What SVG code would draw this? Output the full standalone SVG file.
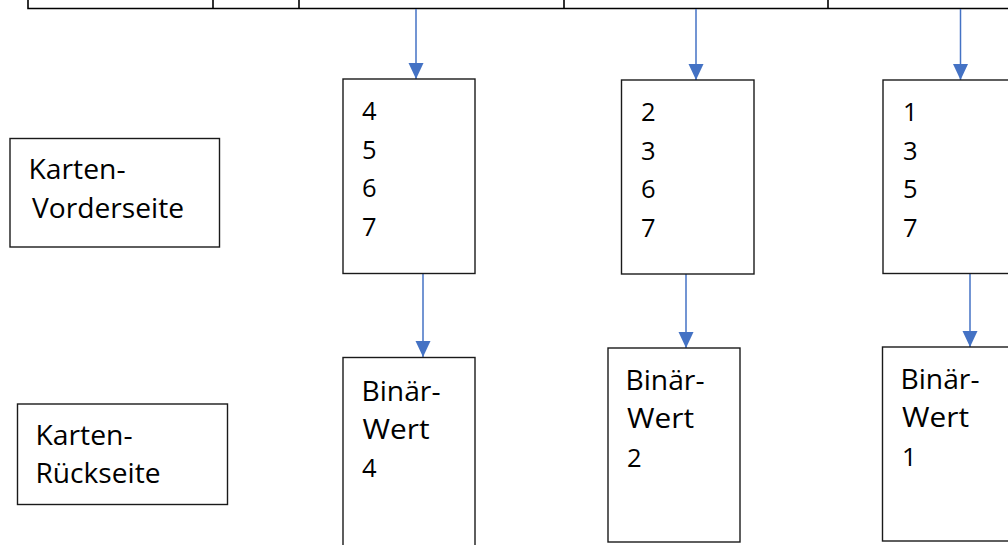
<svg xmlns="http://www.w3.org/2000/svg" width="1008" height="545" viewBox="0 0 1008 545">
<style>
.box{fill:#fff;stroke:#1a1a1a;stroke-width:1.4}
.tbl{fill:none;stroke:#000;stroke-width:1.6}
.con{stroke:#4472C4;stroke-width:1.5;fill:none}
.t{font-family:"Open Sans","Noto Sans","Liberation Sans",sans-serif;font-size:27px;fill:#000}
.d{font-family:"Open Sans","Noto Sans","Liberation Sans",sans-serif;font-size:25.5px;fill:#000}
</style>
<defs>
<marker id="ah" markerUnits="userSpaceOnUse" markerWidth="16" markerHeight="16" refX="16" refY="7.5" orient="auto">
<path d="M0,0 L16,7.5 L0,15 Z" fill="#4472C4"/>
</marker>
</defs>
<g id="table">
<path class="tbl" d="M28,-2 V8.5 H1010 M213,-2 V8.5 M299,-2 V8.5 M564,-2 V8.5 M828,-2 V8.5"/>
</g>
<g id="connectors">
<line class="con" x1="416" y1="9" x2="416" y2="79" marker-end="url(#ah)"/>
<line class="con" x1="696" y1="9" x2="696" y2="80" marker-end="url(#ah)"/>
<line class="con" x1="960.5" y1="9" x2="960.5" y2="80" marker-end="url(#ah)"/>
<line class="con" x1="423" y1="273" x2="423" y2="357" marker-end="url(#ah)"/>
<line class="con" x1="686" y1="274" x2="686" y2="348" marker-end="url(#ah)"/>
<line class="con" x1="970" y1="273.5" x2="970" y2="347" marker-end="url(#ah)"/>
</g>
<g id="front-label">
<rect class="box" x="10" y="138.5" width="209.5" height="108.5"/>
<text class="t" x="28.5" y="179" textLength="97" lengthAdjust="spacingAndGlyphs">Karten-</text>
<text class="t" x="32" y="218" textLength="152" lengthAdjust="spacingAndGlyphs">Vorderseite</text>
</g>
<g id="back-label">
<rect class="box" x="17.5" y="404" width="210" height="100.5"/>
<text class="t" x="35.5" y="445" textLength="97" lengthAdjust="spacingAndGlyphs">Karten-</text>
<text class="t" x="35.5" y="483" textLength="125" lengthAdjust="spacingAndGlyphs">Rückseite</text>
</g>
<g id="front-4">
<rect class="box" x="343" y="79" width="132" height="194.5"/>
<text class="d" x="362" y="120">4</text>
<text class="d" x="362" y="159">5</text>
<text class="d" x="362" y="197">6</text>
<text class="d" x="362" y="236">7</text>
</g>
<g id="front-2">
<rect class="box" x="621.5" y="80" width="132.5" height="194"/>
<text class="d" x="641" y="121">2</text>
<text class="d" x="641" y="160">3</text>
<text class="d" x="641" y="198">6</text>
<text class="d" x="641" y="237">7</text>
</g>
<g id="front-1">
<rect class="box" x="883" y="80" width="130" height="193.5"/>
<text class="d" x="903" y="121">1</text>
<text class="d" x="903" y="160">3</text>
<text class="d" x="903" y="198">5</text>
<text class="d" x="903" y="237">7</text>
</g>
<g id="back-4">
<rect class="box" x="343" y="357.5" width="132" height="200"/>
<text class="t" x="361.5" y="401" textLength="79" lengthAdjust="spacingAndGlyphs">Binär-</text>
<text class="t" x="362.5" y="439" textLength="67" lengthAdjust="spacingAndGlyphs">Wert</text>
<text class="d" x="362" y="477">4</text>
</g>
<g id="back-2">
<rect class="box" x="608" y="348" width="132" height="194"/>
<text class="t" x="625.5" y="390" textLength="79" lengthAdjust="spacingAndGlyphs">Binär-</text>
<text class="t" x="627" y="428" textLength="67" lengthAdjust="spacingAndGlyphs">Wert</text>
<text class="d" x="627" y="467">2</text>
</g>
<g id="back-1">
<rect class="box" x="882.5" y="347" width="130" height="194"/>
<text class="t" x="900.5" y="389" textLength="79" lengthAdjust="spacingAndGlyphs">Binär-</text>
<text class="t" x="902" y="427" textLength="67" lengthAdjust="spacingAndGlyphs">Wert</text>
<text class="d" x="902" y="466">1</text>
</g>
</svg>
